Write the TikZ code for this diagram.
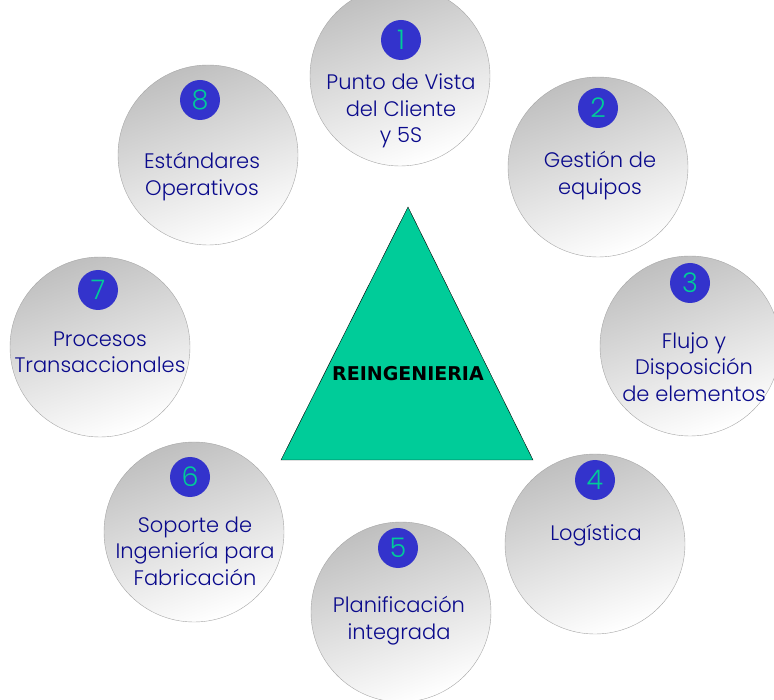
\documentclass[tikz,border=0pt]{standalone}
\usepackage{fontspec}
\setmainfont{Poppins}[UprightFont=* Light]
\newfontfamily\titlefont{DejaVu Sans}
\usetikzlibrary{positioning}

\definecolor{triggreen}{RGB}{0,204,153}
\definecolor{numblue}{RGB}{51,51,204}
\definecolor{txtblue}{RGB}{10,10,140}

\tikzset{
  stage/.style={circle, draw=gray!70, thin, minimum size=180pt, inner sep=0pt,
    top color=gray!50, bottom color=white, shading angle=20},
  badge/.style={circle, fill=numblue, minimum size=40pt, inner sep=0pt,
    text=triggreen, font=\fontsize{27}{27}\selectfont},
  caption/.style={align=center, text=txtblue, font=\fontsize{21}{26.5}\selectfont}
}

\begin{document}
\begin{tikzpicture}[x=1pt, y=-1pt]
  \useasboundingbox (0,0) rectangle (774,700);

  % central triangle
  \coordinate (top) at (408,207);
  \coordinate (left) at (281,460);
  \coordinate (right) at (533,460);
  \draw[fill=triggreen, draw=black, thin] (top) -- (left) -- (right) -- cycle;
  \node[font=\titlefont\bfseries\fontsize{19}{20}\selectfont] (reing) at (408,374) {REINGENIERIA};

  % the eight stages
  \begin{scope}[every node/.style={stage}]
    \node (s1) at (400,76) {};
    \node (s2) at (598,167) {};
    \node (s3) at (690,346) {};
    \node (s4) at (595,544) {};
    \node (s5) at (401,612) {};
    \node (s6) at (194,532) {};
    \node (s7) at (100,347) {};
    \node (s8) at (208,155) {};
  \end{scope}

  \begin{scope}[every node/.style={badge}]
    \node (n1) at (401,40) {1};
    \node (n2) at (598,108) {2};
    \node (n3) at (690,283) {3};
    \node (n4) at (595,480) {4};
    \node (n5) at (398,548) {5};
    \node (n6) at (190,477) {6};
    \node (n7) at (98,290) {7};
    \node (n8) at (200,100) {8};
  \end{scope}

  \begin{scope}[every node/.style={caption}]
    \node (t1) at (401,111) {Punto de Vista\\del Cliente\\y 5S};
    \node (t2) at (600,175.5) {Gestión de\\equipos};
    \node (t3) at (694,367) {Flujo y\\Disposición\\de elementos};
    \node (t4) at (596,535) {Logística};
    \node (t5) at (399,620.5) {Planificación\\integrada};
    \node (t6) at (195,551) {Soporte de\\Ingeniería para\\Fabricación};
    \node (t7) at (100,352) {Procesos\\Transaccionales};
    \node (t8) at (202,176.5) {Estándares\\Operativos};
  \end{scope}
\end{tikzpicture}
\end{document}
